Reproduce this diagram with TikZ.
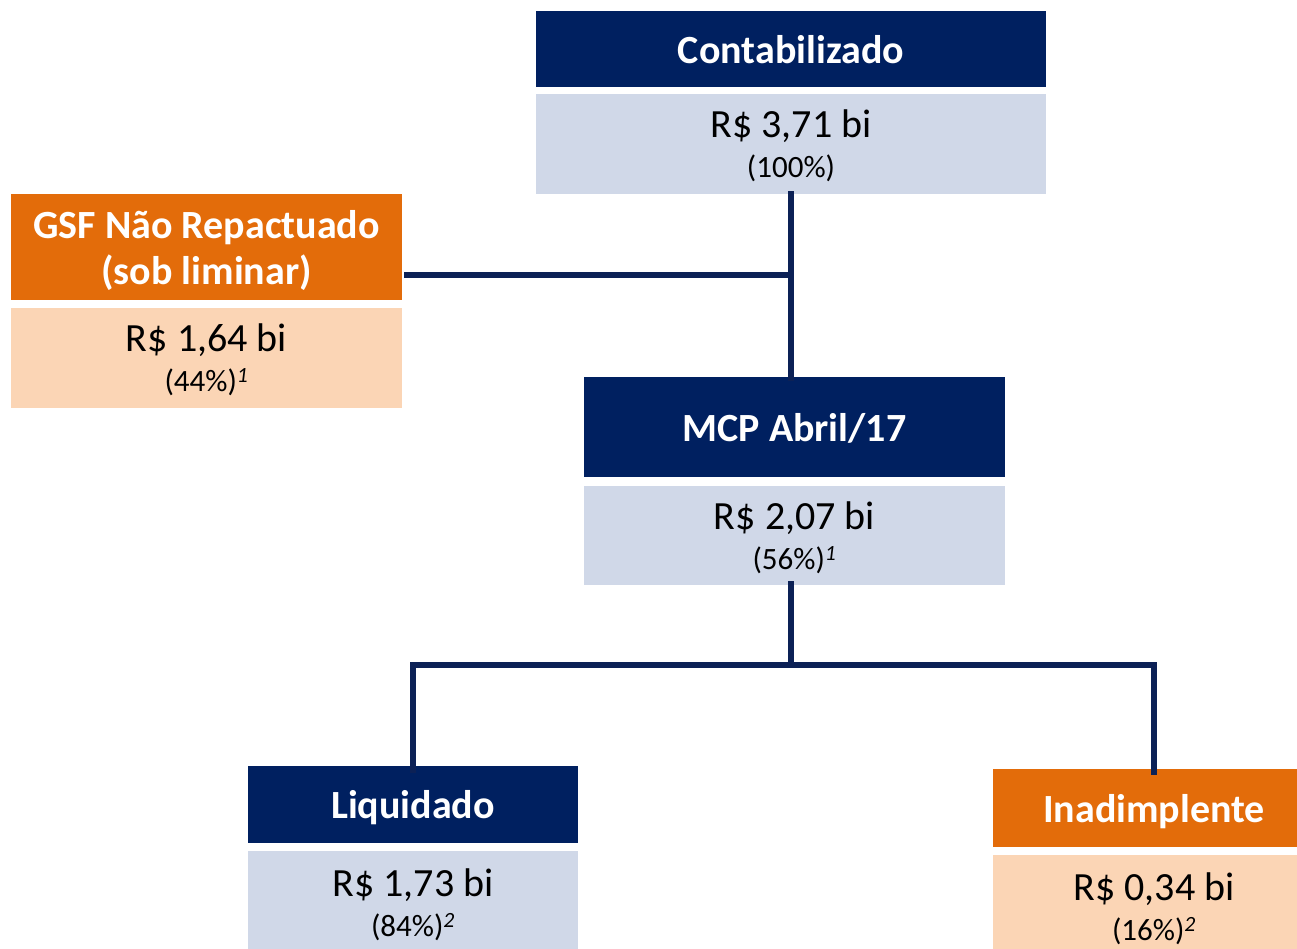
\documentclass[tikz,border=0pt]{standalone}
\usepackage{fontspec}
\setmainfont{Carlito}
\definecolor{navy}{RGB}{0,32,96}
\definecolor{orng}{RGB}{227,108,10}
\definecolor{lblue}{RGB}{208,216,232}
\definecolor{peach}{RGB}{251,213,181}
\definecolor{lnavy}{RGB}{12,33,86}
\newcommand{\valtxt}[2]{{\fontsize{40}{44}\selectfont #1}\\[-2pt]{\fontsize{31}{34}\selectfont #2}}
\newcommand{\sups}[1]{\textsuperscript{\itshape #1}}
\begin{document}
\begin{tikzpicture}[x=1pt,y=-1pt,
  hdr/.style={fill=navy, text=white, font=\fontsize{40}{46}\selectfont\bfseries, inner sep=0pt, align=center, text depth=0pt},
  ohdr/.style={hdr, fill=orng},
  val/.style={fill=lblue, text=black, inner sep=0pt, align=center, font=\fontsize{31}{42}\selectfont, text depth=0pt},
  oval/.style={val, fill=peach},
  conn/.style={draw=lnavy, line width=6.5pt}]
\clip (0,0) rectangle (1297,948);
\useasboundingbox (0,0) rectangle (1297,948);
% boxes
\node[hdr, minimum width=510pt, minimum height=76pt] (conth) at (791,49) {Contabilizado};
\node[val, minimum width=510pt, minimum height=100pt] (contv) at (791,144) {\valtxt{R\$ 3,71 bi}{(100\%)}};
\node[ohdr, minimum width=391pt, minimum height=106pt] (gsfh) at (206.5,247) {GSF Não Repactuado\\(sob liminar)};
\node[oval, minimum width=391pt, minimum height=100pt] (gsfv) at (206.5,358) {\valtxt{R\$ 1,64 bi}{(44\%)\sups{1}}};
\node[hdr, minimum width=421pt, minimum height=100pt] (mcph) at (794.5,427) {MCP Abril/17};
\node[val, minimum width=421pt, minimum height=99pt] (mcpv) at (794.5,535.5) {\valtxt{R\$ 2,07 bi}{(56\%)\sups{1}}};
\node[hdr, minimum width=330pt, minimum height=77pt] (liqh) at (413,804.5) {Liquidado};
\node[val, minimum width=330pt, minimum height=104pt] (liqv) at (413,903) {\valtxt{R\$ 1,73 bi}{(84\%)\sups{2}}};
\node[ohdr, minimum width=322pt, minimum height=78pt] (inah) at (1154,808) {Inadimplente};
\node[oval, minimum width=322pt, minimum height=104pt] (inav) at (1154,907) {\valtxt{R\$ 0,34 bi}{(16\%)\sups{2}}};
% junctions
\coordinate (j1) at (791,275);
\coordinate (j2) at (791,665);
% connectors
\draw[conn] ([yshift=3pt]contv.south -| j1) -- ([yshift=-4pt]mcph.north -| j1);
\draw[conn] ([xshift=2pt]gsfh.east |- j1) -- (j1);
\draw[conn] ([yshift=4pt]mcpv.south -| j2) -- (j2);
\draw[conn, line cap=rect] ([yshift=-4pt]liqh.north) -- (liqh.north |- j2) -- (inah.north |- j2) -- ([yshift=-3pt]inah.north);
\end{tikzpicture}
\end{document}
